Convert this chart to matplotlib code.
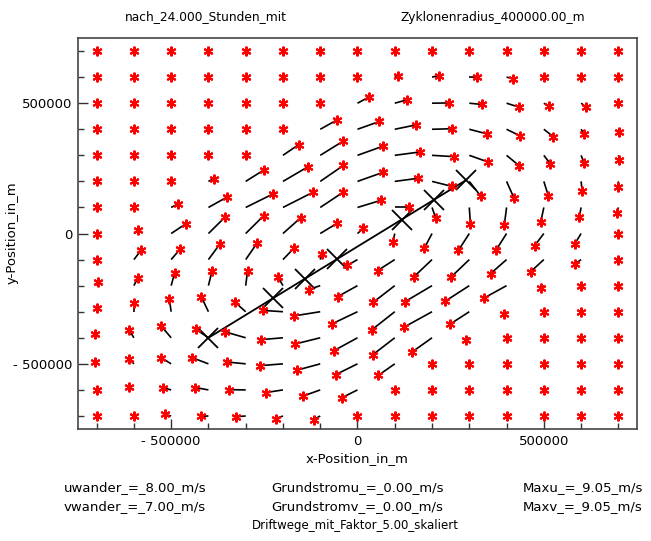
import numpy as np
import matplotlib
matplotlib.use("Agg")
import matplotlib.pyplot as plt
from matplotlib.ticker import MultipleLocator

# start points of the drift grid (m), rows from north to south
gitter_x = np.arange(-700000, 700001, 100000)
gitter_y = np.arange(700000, -700001, -100000)

# drift path end offsets in km (already scaled with faktor), one row per gitter_y
weg_x = [
    [0, 0, 0, 0, 0, 0, 0, 0, 0, 0, 0, 0, 0, 0, 0],
    [0, 0, 0, 0, 0, 0, 0, 0, 8, 18, 20, 18, 0, 0, 0],
    [0, 0, 0, 0, 0, 0, 0, 30, 33, 45, 35, 33, 13, 12, 0],
    [0, 0, 0, 0, 0, 0, 44, 59, 58, 54, 48, 37, 25, 8, 3],
    [0, 0, 0, 0, 0, 42, 61, 68, 68, 58, 51, 34, 17, 8, 3],
    [0, 0, 0, 14, 50, 67, 62, 69, 63, 53, 31, 20, 12, 3, -1],
    [0, 0, 19, 50, 72, 80, 61, 62, 39, 10, 3, -6, -8, -5, -5],
    [0, 12, 40, 44, 48, 48, 46, 16, -5, -21, -29, -28, -25, -17, 0],
    [0, 20, 25, 31, 30, 29, 5, -27, -46, -48, -49, -43, -35, -16, 0],
    [5, 10, 9, 10, 5, -14, -31, -53, -58, -72, -65, -61, -8, 0, 0],
    [0, 0, -5, -19, -30, -54, -70, -69, -62, -76, -51, -6, 0, 0, 0],
    [-5, -13, -26, -33, -56, -58, -68, -64, -59, -54, -9, 0, 0, 0, 0],
    [-5, -13, -26, -44, -49, -62, -62, -58, -44, 0, 0, 0, 0, 0, 0],
    [0, -13, -23, -35, -46, -45, -47, -42, 0, 0, 0, 0, 0, 0, 0],
    [0, 0, -17, -19, -27, -19, -18, 0, 0, 0, 0, 0, 0, 0, 0],
]
weg_y = [
    [0, 0, 0, 0, 0, 0, 0, 0, 0, 0, 0, 0, 0, 0, 0],
    [0, 0, 0, 0, 0, 0, 0, 0, 4, 6, 0, -6, 0, 0, 0],
    [0, 0, 0, 0, 0, 0, 0, 23, 13, 1, -5, -15, -12, -13, 0],
    [0, 0, 0, 0, 0, 0, 35, 30, 17, 2, -18, -26, -28, -17, -9],
    [0, 0, 0, 0, 0, 41, 54, 35, 13, -5, -26, -40, -32, -30, -19],
    [0, 0, 0, 10, 45, 56, 61, 35, 12, -19, -57, -64, -55, -38, -20],
    [0, 0, 14, 40, 51, 58, 58, 27, 0, -41, -64, -67, -54, -38, -22],
    [0, 14, 38, 62, 68, 61, 40, 20, -33, -57, -64, -63, -47, -40, 0],
    [0, 37, 42, 60, 62, 43, 22, -22, -42, -65, -67, -54, -46, -16, 0],
    [15, 28, 47, 58, 57, 35, -15, -42, -64, -61, -60, -48, -10, 0, 0],
    [15, 32, 49, 57, 38, 5, -16, -47, -70, -60, -47, -9, 0, 0, 0],
    [13, 31, 44, 32, 23, -7, -24, -50, -65, -55, -10, 0, 0, 0, 0],
    [7, 19, 23, 24, 7, -7, -24, -41, -44, 0, 0, 0, 0, 0, 0],
    [0, 10, 9, 9, 1, -10, -24, -30, 0, 0, 0, 0, 0, 0, 0],
    [0, 0, 6, -1, -3, -10, -14, 0, 0, 0, 0, 0, 0, 0, 0],
]

# cyclone track
start_x = -400000.0
start_y = -400000.0
uwander = 8.0   # m/s
vwander = 7.0   # m/s
stunden = [0, 6, 9, 12, 18, 21, 24]

x_ticks = [-500000, 0, 500000]
x_ticklabels = ["- 500000", "0", "500000"]

fig = plt.figure(figsize=(6.51, 5.41), dpi=100)
ax = fig.add_axes([0.1198, 0.207, 0.8587, 0.7227])

gx, gy = np.meshgrid(gitter_x, gitter_y)
ende_x = gx + np.array(weg_x) * 1000.0
ende_y = gy + np.array(weg_y) * 1000.0

# drift paths
for r in range(len(gitter_y)):
    for c in range(len(gitter_x)):
        if weg_x[r][c] != 0 or weg_y[r][c] != 0:
            ax.plot([gx[r, c], ende_x[r, c]], [gy[r, c], ende_y[r, c]],
                    color="black", lw=1.2, solid_capstyle="butt", zorder=2)

# cyclone centre positions
t = np.array(stunden) * 3600.0
zx = start_x + uwander * t
zy = start_y + vwander * t
ax.plot([zx[0], zx[-1]], [zy[0], zy[-1]], color="black", lw=1.3, zorder=3)
ax.plot(zx, zy, "x", color="black", ms=14, mew=1.3, zorder=3)

# end points of drift
ax.plot(ende_x.ravel(), ende_y.ravel(), ls="none", marker=(6, 2, 0),
        ms=7, mew=1.5, color="#ff0000", zorder=4)

ax.set_xlim(-750000, 750000)
ax.set_ylim(-750000, 750000)
ax.set_xticks(x_ticks)
ax.set_xticklabels(x_ticklabels)
ax.set_yticks(x_ticks)
ax.set_yticklabels(x_ticklabels)
ax.xaxis.set_minor_locator(MultipleLocator(100000))
ax.yaxis.set_minor_locator(MultipleLocator(100000))
ax.tick_params(which="both", direction="in", top=False, right=False,
               color="#333333", width=1.0, labelsize=9.5, pad=4)
ax.tick_params(which="major", length=7)
ax.tick_params(which="minor", length=4)
for s in ax.spines.values():
    s.set_color("#444444")
    s.set_linewidth(1.2)

fs = 9.5
fig.text(357 / 651, 1 - 459 / 541, "x-Position_in_m", ha="center", va="center", fontsize=fs)
fig.text(12 / 651, 1 - 233 / 541, "y-Position_in_m", ha="center", va="center",
         rotation=90, fontsize=fs)
fig.text(206 / 651, 1 - 17 / 541, "nach_24.000_Stunden_mit", ha="center", va="center", fontsize=8.8)
fig.text(493 / 651, 1 - 17 / 541, "Zyklonenradius_400000.00_m", ha="center", va="center", fontsize=8.8)

fig.text(135 / 651, 1 - 488 / 541, "uwander_=_%.2f_m/s" % uwander, ha="center", va="center", fontsize=fs)
fig.text(135 / 651, 1 - 507 / 541, "vwander_=_%.2f_m/s" % vwander, ha="center", va="center", fontsize=fs)
fig.text(357 / 651, 1 - 488 / 541, "Grundstromu_=_0.00_m/s", ha="center", va="center", fontsize=fs)
fig.text(357 / 651, 1 - 507 / 541, "Grundstromv_=_0.00_m/s", ha="center", va="center", fontsize=fs)
fig.text(583 / 651, 1 - 488 / 541, "Maxu_=_9.05_m/s", ha="center", va="center", fontsize=fs)
fig.text(583 / 651, 1 - 507 / 541, "Maxv_=_9.05_m/s", ha="center", va="center", fontsize=fs)
fig.text(355 / 651, 1 - 526 / 541, "Driftwege_mit_Faktor_5.00_skaliert", ha="center", va="center", fontsize=8.5)

fig.savefig("out.png", dpi=100)
